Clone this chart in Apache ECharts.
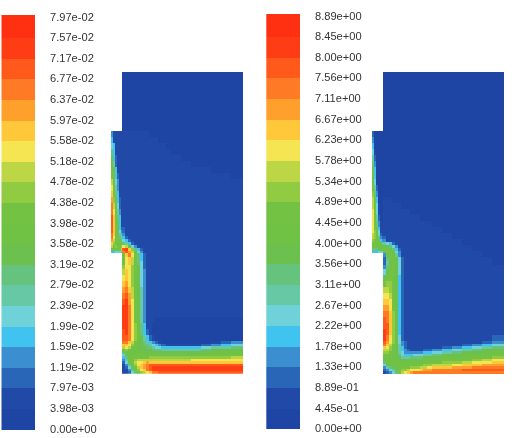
<!DOCTYPE html>
<html>
<head>
<meta charset="utf-8">
<style>html,body{margin:0;padding:0;background:#fff}#chart{width:514px;height:438px}</style>
<script src="https://cdn.jsdelivr.net/npm/echarts@6/dist/echarts.min.js"></script>
</head>
<body>
<div id="chart"></div>
<script>
// Contour levels, top of the scale first
const leftTickLabels = ['7.97e-02','7.57e-02','7.17e-02','6.77e-02','6.37e-02','5.97e-02','5.58e-02','5.18e-02','4.78e-02','4.38e-02','3.98e-02','3.58e-02','3.19e-02','2.79e-02','2.39e-02','1.99e-02','1.59e-02','1.19e-02','7.97e-03','3.98e-03','0.00e+00'];
const rightTickLabels = ['8.89e+00','8.45e+00','8.00e+00','7.56e+00','7.11e+00','6.67e+00','6.23e+00','5.78e+00','5.34e+00','4.89e+00','4.45e+00','4.00e+00','3.56e+00','3.11e+00','2.67e+00','2.22e+00','1.78e+00','1.33e+00','8.89e-01','4.45e-01','0.00e+00'];

// Band fill colours, lowest band (0) to highest band (j)
const bandColors = ['#1e45a3','#2149a7','#2a66b8','#3b8ed0','#40c4ef','#6ed2d8','#66c8a5','#66c37d','#6cc14e','#70c245','#74c244','#90cb42','#bdd645','#f5e552','#ffc83a','#ffa02c','#ff7a24','#ff5a1b','#ff3d14','#ff2f12'];
const bandKeys = '0123456789abcdefghij';

// Cell edges of the domain mesh (streamwise and wall-normal lengths)
const xEdges = [0,2,4,6,8,10,11.7,14.7,17.7,20.7,23.7,26.7,29.7,32.7,35.7,38.7,41.7,44.7,47.7,50.7,55,60,70,80,90,100,110,120,132.3];
const yEdges = [0,28.5,59.8,65.8,71.8,77.8,83.8,89.8,95.8,101.8,107.8,113.8,119.8,125.8,131.8,137.8,143.8,149.8,155.8,158.8,161.8,164.8,167.8,170.8,173.8,176.8,179.8,181.5,185.5,189.5,193.5,197.5,203.5,209.5,215.5,221.5,227.5,233.5,239.5,245.5,251.5,257.5,263.5,269.5,272,274.5,277,279.5,282,284.5,287,289.5,292,294.5,297,299.5,302.3];

// Band index per mesh cell, one string per row; '.' is outside the domain
const leftField = [
'......0000000000000000000000',
'......0000000000000000000000',
'3111111111111110000000000000',
'4111111111111111110000000000',
'5411111111111111111100000000',
'7411111111111111111110000000',
'8421111111111111111111000000',
'9621111111111111111111100000',
'a841111111111111111111111000',
'a942111111111111111111111110',
'c953111111111111111111111111',
'd963111111111111111111111111',
'ea74111111111111111111111111',
'fb84211111111111111111111111',
'gc95211111111111111111111111',
'gd96311111111111111111111111',
'hea7411111111111111111111111',
'hea8411111111111111111111111',
'hea9422111111111111111111111',
'hea9532111111111111111111111',
'gea9643111111111111111111111',
'gda9764211111111111111111111',
'fc9a875421111111111111111111',
'eb99997642111111111111111111',
'cabaabdc95311111111111111111',
'9999achieb742111111111111111',
'445556ghfc853111111111111111',
'......9egda74211111111111111',
'......8deca74211111111111111',
'......9deca75211111111111111',
'......bddba85211111111111111',
'......cedba85311111111111111',
'......dedb985311111111111111',
'......efdb985311111111111111',
'......fgec986311111111111111',
'......ghfca86311111111111111',
'......hifda86311111111111111',
'......iigda86311111111111111',
'......iigda86311111111111111',
'......iigda96311100000000000',
'......iigdb97411000000000000',
'......higdb97421000000000000',
'......hhgdb98642100000000000',
'......ggeca98764321000000123',
'......eedb998776543211112345',
'......cdca988877655444445667',
'......aba9988888777666667888',
'......7999999999888888889999',
'......58999aaa99999999999aaa',
'......479aaaaaabbbbbbbbbbbbc',
'......369abccccccccccccddddd',
'......258acddefeeeeeeeeeeeee',
'......1379bdefghhhhhhhhhhhhh',
'......1258acefghiiiiiiiiiiii',
'......11379bdeghiiiiiiiiiiii',
'......112579bcdegghhhhhhhhhh'
];

const rightField = [
'......0000000000000000000000',
'......0000000000000000000000',
'2000000000000000000000000000',
'3000000000000000000000000000',
'4000000000000000000000000000',
'5100000000000000000000000000',
'6200000000000000000000000000',
'7300000000000000000000000000',
'8400000000000000000000000000',
'9400000000000000000000000000',
'9500000000000000000000000000',
'a620000000000000000000000000',
'b730000000000000000000000000',
'c840001110000000000000000000',
'c951001111110000000000000000',
'd951001111111110000000000000',
'da62001111111111110000000000',
'da73101111111111111110000000',
'da84101111111111111111000000',
'db85111111111111111111000000',
'cb95211111111111111111100000',
'cb97322111111111111111100000',
'ba98433111111111111111110000',
'a999966542111111111111110000',
'9999988875311111111111111000',
'7778889987421111111111111000',
'4445558a98531111111111111100',
'......38a9631111111111111100',
'......27aa852111111111111110',
'......269a852111111111111110',
'......379a852111111111111111',
'......58aa852111111111111111',
'......8aa9842111111111111111',
'......abba842111111111111111',
'......ccba842111111111111111',
'......ddca842111111111111111',
'......eeda842111111111111111',
'......ffda842111111111111111',
'......ggeb842111111111111111',
'......hgeb842111111111111111',
'......hheb842111111111111111',
'......iheb842111111111111111',
'......igdb852111111111111112',
'......hfdb853211111111111123',
'......geca863211111111112345',
'......edba864211111111234567',
'......ccba864321111223456788',
'......bba9865333333445678899',
'......aa9987544455566788999a',
'......9a99886667777888999aab',
'......8999988888889999aaabcd',
'......7999999999999aaabbcdde',
'......588999999aaaabbccdeeff',
'......367889aaabbbccdeeffggg',
'......23568abbcdddeffggghhhh',
'......12357acdefgggggggggggg'
];

// Expand a row table into [column, row, band] cells
function fieldCells(rows) {
  const cells = [];
  rows.forEach((row, r) => {
    for (let c = 0; c < xEdges.length - 1; c++) {
      const band = bandKeys.indexOf(row.charAt(c));
      if (band >= 0) cells.push([c, r, band]);
    }
  });
  return cells;
}

// Cells snap to whole pixels so neighbours meet without seams
function renderFieldCell(params, api) {
  const c = api.value(0), r = api.value(1);
  const a = api.coord([xEdges[c], yEdges[r]]);
  const b = api.coord([xEdges[c + 1], yEdges[r + 1]]);
  const x0 = Math.round(a[0]), y0 = Math.round(a[1]);
  return {
    type: 'rect',
    shape: { x: x0, y: y0, width: Math.round(b[0]) - x0, height: Math.round(b[1]) - y0 },
    style: { fill: bandColors[api.value(2)] }
  };
}

// One legend swatch spans two neighbouring contour levels
function renderLegendBand(params, api) {
  const i = api.value(1);
  const a = api.coord([0, i]);
  const b = api.coord([1, i + 1]);
  const overshoot = i === 0 ? 2.5 : 0;
  const y0 = Math.round(a[1] - overshoot);
  return {
    type: 'rect',
    shape: { x: a[0], y: y0, width: b[0] - a[0], height: Math.round(b[1]) - y0 },
    style: { fill: bandColors[19 - i] }
  };
}

const legendBands = bandColors.map((_, i) => [0, i]);
const labelStyle = { fontFamily: 'Liberation Sans', fontSize: 11.1, color: '#333', interval: 0, margin: 15, align: 'left' };
const hiddenValueAxis = (gridIndex, max, inverse) => ({
  type: 'value', gridIndex, min: 0, max, inverse: !!inverse, show: false
});
const legendY = (gridIndex, labels) => ({
  type: 'category', gridIndex, data: labels, inverse: true, boundaryGap: false, position: 'right',
  axisLine: { show: false }, axisTick: { show: false }, splitLine: { show: false }, axisLabel: labelStyle
});

const chart = echarts.init(document.getElementById('chart'), null, { renderer: 'canvas' });
chart.setOption({
  animation: false,
  backgroundColor: '#fff',
  grid: [
    { left: 1.5, top: 17.5, width: 33.5, height: 412 },
    { left: 110.7, top: 71.5, width: 132.3, height: 302.3 },
    { left: 266.3, top: 16.5, width: 33.7, height: 412.8 },
    { left: 371.7, top: 71.5, width: 132.6, height: 302.5 }
  ],
  xAxis: [
    hiddenValueAxis(0, 1), hiddenValueAxis(1, 132.3),
    hiddenValueAxis(2, 1), hiddenValueAxis(3, 132.3)
  ],
  yAxis: [
    legendY(0, leftTickLabels), hiddenValueAxis(1, 302.3, true),
    legendY(2, rightTickLabels), hiddenValueAxis(3, 302.3, true)
  ],
  series: [
    { type: 'custom', xAxisIndex: 0, yAxisIndex: 0, data: legendBands, renderItem: renderLegendBand, silent: true },
    { type: 'custom', xAxisIndex: 1, yAxisIndex: 1, data: fieldCells(leftField), renderItem: renderFieldCell, silent: true, clip: true },
    { type: 'custom', xAxisIndex: 2, yAxisIndex: 2, data: legendBands, renderItem: renderLegendBand, silent: true },
    { type: 'custom', xAxisIndex: 3, yAxisIndex: 3, data: fieldCells(rightField), renderItem: renderFieldCell, silent: true, clip: true }
  ]
});
</script>
</body>
</html>
